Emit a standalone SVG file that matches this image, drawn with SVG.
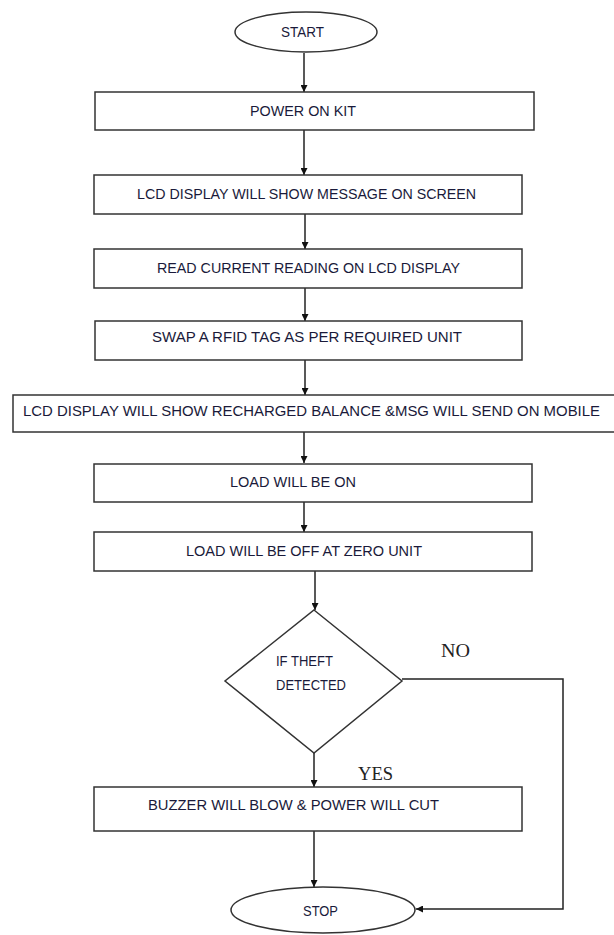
<svg xmlns="http://www.w3.org/2000/svg" width="614" height="935" viewBox="0 0 614 935">
<style>
.b{fill:#fff;stroke:#333;stroke-width:1.5}
.t{font-family:"Liberation Sans",Arial,sans-serif;font-size:14px;fill:#1a1a3a}
.l{font-family:"Liberation Serif","Times New Roman",serif;font-size:18px;fill:#222}
.c{fill:none;stroke:#222;stroke-width:1.5}
</style>
<defs>
<marker id="a" viewBox="0 0 10 10" refX="10" refY="5" markerWidth="7" markerHeight="7" markerUnits="userSpaceOnUse" orient="auto">
<path d="M0,0 L10,5 L0,10 z" fill="#111"/>
</marker>
</defs>
<rect width="614" height="935" fill="#fff"/>
<g id="connectors">
<line class="c" x1="304" y1="53" x2="304" y2="92" marker-end="url(#a)"/>
<line class="c" x1="304" y1="130" x2="304" y2="175" marker-end="url(#a)"/>
<line class="c" x1="305" y1="214" x2="305" y2="249" marker-end="url(#a)"/>
<line class="c" x1="305" y1="288" x2="305" y2="321" marker-end="url(#a)"/>
<line class="c" x1="305" y1="360" x2="305" y2="395" marker-end="url(#a)"/>
<line class="c" x1="304" y1="432" x2="304" y2="463" marker-end="url(#a)"/>
<line class="c" x1="304" y1="502" x2="304" y2="532" marker-end="url(#a)"/>
<line class="c" x1="315" y1="571" x2="315" y2="610" marker-end="url(#a)"/>
<line class="c" x1="314" y1="753" x2="314" y2="787" marker-end="url(#a)"/>
<line class="c" x1="314" y1="831" x2="314" y2="887" marker-end="url(#a)"/>
<polyline class="c" points="402,679 563,679 563,909 416,909" marker-end="url(#a)"/>
<text class="l" x="441" y="657" textLength="29" lengthAdjust="spacingAndGlyphs">NO</text>
<text class="l" x="358" y="780" textLength="35" lengthAdjust="spacingAndGlyphs">YES</text>
</g>
<g id="start">
<ellipse class="b" cx="306" cy="32" rx="71" ry="20"/>
<text class="t" x="281" y="37" textLength="43" lengthAdjust="spacingAndGlyphs">START</text>
</g>
<g id="power">
<rect class="b" x="95" y="92" width="439" height="38"/>
<text class="t" x="250" y="116" textLength="106" lengthAdjust="spacingAndGlyphs">POWER ON KIT</text>
</g>
<g id="lcd1">
<rect class="b" x="94" y="175" width="428" height="39"/>
<text class="t" x="137" y="199" textLength="339" lengthAdjust="spacingAndGlyphs">LCD DISPLAY WILL SHOW MESSAGE  ON SCREEN</text>
</g>
<g id="read">
<rect class="b" x="94" y="249" width="428" height="39"/>
<text class="t" x="157" y="273" textLength="303" lengthAdjust="spacingAndGlyphs">READ  CURRENT READING  ON LCD DISPLAY</text>
</g>
<g id="swap">
<rect class="b" x="95" y="321" width="427" height="39"/>
<text class="t" x="152" y="342" textLength="310" lengthAdjust="spacingAndGlyphs">SWAP A RFID TAG AS PER REQUIRED  UNIT</text>
</g>
<g id="lcd2">
<rect class="b" x="13" y="395" width="605" height="37"/>
<text class="t" x="23" y="416" textLength="577" lengthAdjust="spacingAndGlyphs">LCD DISPLAY WILL SHOW RECHARGED  BALANCE  &amp;MSG WILL SEND ON MOBILE</text>
</g>
<g id="loadon">
<rect class="b" x="94" y="464" width="438" height="38"/>
<text class="t" x="230" y="487" textLength="126" lengthAdjust="spacingAndGlyphs">LOAD WILL BE ON</text>
</g>
<g id="loadoff">
<rect class="b" x="94" y="532" width="438" height="39"/>
<text class="t" x="186" y="556" textLength="236" lengthAdjust="spacingAndGlyphs">LOAD WILL BE OFF  AT ZERO  UNIT</text>
</g>
<g id="theft">
<polygon class="b" points="314,610 402,681 314,753 225,681"/>
<text class="t" x="276" y="666" textLength="57" lengthAdjust="spacingAndGlyphs">IF THEFT</text>
<text class="t" x="276" y="690" textLength="70" lengthAdjust="spacingAndGlyphs">DETECTED</text>
</g>
<g id="buzzer">
<rect class="b" x="94" y="787" width="428" height="44"/>
<text class="t" x="148" y="810" textLength="291" lengthAdjust="spacingAndGlyphs">BUZZER  WILL BLOW &amp; POWER WILL CUT</text>
</g>
<g id="stop">
<ellipse class="b" cx="323" cy="910" rx="92" ry="23"/>
<text class="t" x="303" y="916" textLength="35" lengthAdjust="spacingAndGlyphs">STOP</text>
</g>
</svg>
